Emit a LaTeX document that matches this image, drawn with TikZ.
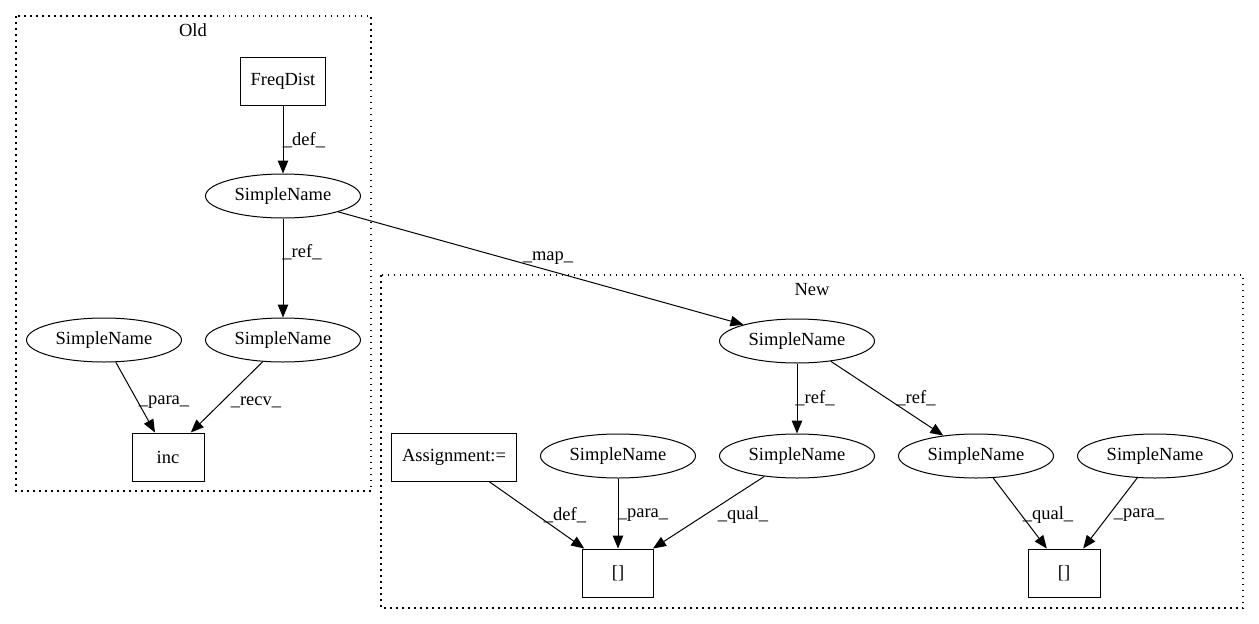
\documentclass[tikz,border=0pt]{standalone}
\usepackage{fontspec}
\setmainfont{Liberation Serif}
\usetikzlibrary{arrows.meta,shapes.geometric}
\tikzset{
  every node/.style={font=\fontsize{18.5}{22}\selectfont, inner sep=0pt},
  ell/.style={draw, ellipse, minimum width=155pt, minimum height=44pt, line width=1pt},
  box/.style={draw, rectangle, minimum height=48pt, line width=1pt},
  edge/.style={line width=1pt, -{Triangle[length=13pt,width=10.5pt]}},
  cluster/.style={line width=1.2pt, dash pattern=on 1.5pt off 4.5pt},
  lbl/.style={anchor=center}
}
\begin{document}
\begin{tikzpicture}[x=1pt,y=-1pt]
\useasboundingbox (0,0) rectangle (1259,624);
% clusters
\draw[cluster] (16,16) rectangle (371,491);
\node (oldlbl) at (193,30) {Old};
\draw[cluster] (381,275) rectangle (1243,608);
\node (newlbl) at (812,290) {New};
% Old nodes
\node[box, minimum width=85pt] (freq) at (283,81) {FreqDist};
\node[ell] (osn1) at (283,196) {SimpleName};
\node[ell] (osn2) at (283,340) {SimpleName};
\node[ell] (osn3) at (104,340) {SimpleName};
\node[box, minimum width=72pt] (inc) at (168,457) {inc};
% New nodes
\node[ell] (nsn1) at (797,341) {SimpleName};
\node[ell] (nsn2) at (797,456) {SimpleName};
\node[ell] (nsn3) at (976,456) {SimpleName};
\node[ell] (nsn4) at (1155,456) {SimpleName};
\node[ell] (nsn5) at (618,456) {SimpleName};
\node[box, minimum width=125pt] (asg) at (454,457) {Assignment:=};
\node[box, minimum width=71pt] (br1) at (618,573) {[]};
\node[box, minimum width=72pt] (br2) at (1064,573) {[]};
% edges
\draw[edge] (freq) -- (osn1);
\node[lbl] (l1) at (304,140) {\_def\_};
\draw[edge] (osn1) -- (osn2);
\node[lbl] (l2) at (302,252) {\_ref\_};
\draw[edge] (osn3.-62) -- (inc.118);
\node[lbl] (l3) at (164,402) {\_para\_};
\draw[edge] (osn2.-133) -- (inc.47.5);
\node[lbl] (l4) at (256,402) {\_recv\_};
\draw[edge] (osn1.-16.6) -- (nsn1.163.4);
\node[lbl] (l5) at (548,258) {\_map\_};
\draw[edge] (nsn1) -- (nsn2);
\node[lbl] (l6) at (815,398) {\_ref\_};
\draw[edge] (nsn1.-31.2) -- (nsn3.148);
\node[lbl] (l7) at (916,398) {\_ref\_};
\draw[edge] (asg.-35.2) -- (br1.144);
\node[lbl] (l8) at (565,515) {\_def\_};
\draw[edge] (nsn5) -- (br1);
\node[lbl] (l9) at (643,515) {\_para\_};
\draw[edge] (nsn2.-148) -- (br1.35);
\node[lbl] (l10) at (743,515) {\_qual\_};
\draw[edge] (nsn3.-52) -- (br2.125);
\node[lbl] (l11) at (1048,515) {\_qual\_};
\draw[edge] (nsn4.-129) -- (br2.52);
\node[lbl] (l12) at (1139,515) {\_para\_};
\end{tikzpicture}
\end{document}
